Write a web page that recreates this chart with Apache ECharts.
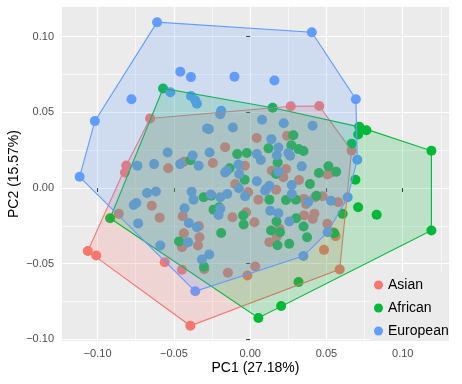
<!DOCTYPE html>
<html>
<head>
<meta charset="utf-8">
<script src="https://cdn.jsdelivr.net/npm/echarts@6/dist/echarts.min.js"></script>
<style>
html,body{margin:0;padding:0;background:#fff;}
#chart{width:462px;height:384px;}
</style>
</head>
<body>
<div id="chart"></div>
<script>
const groups = ['Asian', 'African', 'European'];
const colors = ['#F8766D', '#00BA38', '#619CFF'];
const fills = ['rgba(248,118,109,0.2)', 'rgba(0,186,56,0.2)', 'rgba(97,156,255,0.2)'];
const xTicks = [-0.10, -0.05, 0.00, 0.05, 0.10];
const yTicks = [-0.10, -0.05, 0.00, 0.05, 0.10];
const xMinorTicks = [-0.075, -0.025, 0.025, 0.075, 0.125];
const yMinorTicks = [-0.075, -0.025, 0.025, 0.075];
const xTitle = 'PC1 (27.18%)';
const yTitle = 'PC2 (15.57%)';

// [PC1, PC2]
const asian = [
[-0.1064,-0.0417],[-0.1009,-0.0446],[-0.0392,-0.0911],[0.0587,-0.0538],[0.0665,0.0247],[0.0453,0.0542],[0.0266,0.0540],[-0.0656,0.0460],[-0.0812,0.0148],[-0.0821,0.0103],
[-0.0164,0.0270],[-0.0537,0.0130],[-0.0435,0.0173],[-0.0245,0.0165],[0.0043,0.0331],[0.0242,0.0345],[-0.0035,0.0147],[0.0142,0.0114],[0.0235,0.0125],[0.0320,0.0053],
[0.0170,-0.0011],[-0.0013,-0.0028],[0.0054,-0.0077],[0.0353,-0.0072],[0.0366,-0.0105],[0.0425,-0.0061],[0.0577,-0.0094],[0.0475,-0.0055],[-0.0861,-0.0171],[-0.0645,-0.0117],
[-0.0593,-0.0196],[-0.0442,-0.0186],[-0.0336,-0.0252],[-0.0332,-0.0326],[-0.0116,-0.0193],[-0.0026,-0.0160],[0.0028,-0.0226],[0.0175,-0.0321],[0.0192,-0.0270],[0.0353,-0.0181],
[0.0421,-0.0171],[0.0410,-0.0204],[0.0545,-0.0292],[0.0560,-0.0318],[-0.0435,-0.0299],[-0.0430,-0.0369],[-0.0447,-0.0392],[-0.0342,-0.0380],[-0.0560,-0.0490],[-0.0447,-0.0540],
[-0.0301,-0.0537],[-0.0146,-0.0560],[-0.0018,-0.0578],[0.0033,-0.0519],[0.0126,-0.0358],[0.0484,-0.0409],[-0.0098,0.0026],[0.0506,0.0089],[0.0533,0.0103],
[0.0218,0.0071],[0.0506,-0.0237]
];
const african = [
[-0.0571,0.0658],[0.0147,0.0530],[0.0715,0.0404],[0.0762,0.0382],[0.0708,0.0353],[0.1188,0.0246],[0.1188,-0.0281],[0.0054,-0.0859],[0.0203,-0.0780],[-0.0918,-0.0200],
[0.0283,0.0349],[0.0270,0.0283],[0.0317,0.0257],[0.0350,0.0244],[0.0120,0.0262],[-0.0022,0.0231],[-0.0085,0.0224],[0.0180,0.0169],[0.0451,0.0099],[0.0513,0.0143],
[0.0564,0.0107],[0.0392,0.0026],[0.0665,0.0293],[0.0690,0.0055],[-0.0036,0.0055],[0.0170,0.0092],[-0.0392,0.0183],[-0.0135,0.0130],[-0.0305,-0.0061],[-0.0255,-0.0051],
[-0.0240,-0.0143],[-0.0203,-0.0127],[0.0126,-0.0077],[0.0235,-0.0079],[0.0299,-0.0077],[0.0435,-0.0051],[-0.0046,-0.0181],[-0.0043,-0.0241],[-0.0190,-0.0298],[0.0173,-0.0222],
[0.0137,-0.0281],[0.0196,-0.0292],[0.0301,-0.0200],[0.0350,-0.0254],[0.0373,-0.0325],[0.0179,-0.0378],[0.0256,-0.0369],[-0.0466,-0.0353],[-0.0303,-0.0521],[0.0317,-0.0621],
[0.0551,-0.0299],[0.0606,-0.0171],[0.0708,-0.0127],[0.0829,-0.0177]
];
const european = [
[-0.0610,0.1096],[0.0404,0.1030],[0.0693,0.0587],[0.0702,0.0187],[0.0639,-0.0061],[0.0508,-0.0292],[0.0349,-0.0450],[-0.0360,-0.0683],[-0.1118,0.0074],[-0.1018,0.0442],
[-0.0778,0.0587],[-0.0458,0.0769],[-0.0388,0.0733],[-0.0103,0.0736],[0.0159,0.0710],[-0.0523,0.0633],[-0.0388,0.0608],[-0.0360,0.0580],[-0.0349,0.0557],[-0.0190,0.0511],
[-0.0196,0.0488],[-0.0283,0.0393],[-0.0271,0.0389],[-0.0113,0.0400],[0.0078,0.0451],[0.0220,0.0428],[0.0409,0.0411],[0.0139,0.0323],[0.0175,0.0217],[0.0044,0.0224],
[-0.0077,0.0155],[-0.0541,0.0235],[-0.0377,0.0214],[-0.0266,0.0235],[-0.0739,0.0147],[-0.0630,0.0158],[-0.0459,0.0158],[-0.0338,0.0147],[-0.0152,0.0114],[-0.0164,0.0102],
[-0.0072,0.0092],[0.0044,0.0044],[0.0338,0.0143],[-0.0676,-0.0033],[-0.0618,-0.0023],[-0.0384,-0.0024],[-0.0371,-0.0077],[-0.0258,-0.0043],[-0.0196,-0.0061],[-0.0150,-0.0040],
[-0.0074,-0.0002],[-0.0033,-0.0055],[0.0105,-0.0007],[0.0126,0.0015],[0.0530,-0.0084],[-0.0763,-0.0112],[-0.0746,-0.0099],[-0.0430,-0.0134],[-0.0402,-0.0231],[-0.0349,-0.0260],
[-0.0207,-0.0178],[-0.0196,-0.0138],[-0.0589,-0.0380],[-0.0734,-0.0234],[-0.0316,-0.0473],[-0.0268,-0.0440],[-0.0407,-0.0358],[0.0273,0.0020],[0.0273,-0.0040],[0.0381,-0.0090],
[0.0131,-0.0150],[0.0185,-0.0167],[0.0257,-0.0222],[0.0185,0.0268],[0.0250,0.0231],[0.0262,0.0213],[0.0070,0.0185],[0.0185,0.0107],[0.0098,-0.0018]
];
const groupData = [asian, african, european];

// ggplot-like 5% expansion of the data range
function expanded(dim) {
  let lo = Infinity, hi = -Infinity;
  groupData.forEach(g => g.forEach(p => { lo = Math.min(lo, p[dim]); hi = Math.max(hi, p[dim]); }));
  const pad = (hi - lo) * 0.05;
  return [lo - pad, hi + pad];
}
const [xMin, xMax] = expanded(0);
const [yMin, yMax] = expanded(1);

function convexHull(pts) {
  const p = pts.slice().sort((a, b) => a[0] - b[0] || a[1] - b[1]);
  const cross = (o, a, b) => (a[0] - o[0]) * (b[1] - o[1]) - (a[1] - o[1]) * (b[0] - o[0]);
  const lower = [], upper = [];
  for (const q of p) { while (lower.length >= 2 && cross(lower[lower.length - 2], lower[lower.length - 1], q) <= 0) lower.pop(); lower.push(q); }
  for (let i = p.length - 1; i >= 0; i--) { const q = p[i]; while (upper.length >= 2 && cross(upper[upper.length - 2], upper[upper.length - 1], q) <= 0) upper.pop(); upper.push(q); }
  lower.pop(); upper.pop();
  return lower.concat(upper);
}

const fmt = v => (v < -1e-9 ? '\u2212' : '') + Math.abs(v).toFixed(2);
const FONT = '"Liberation Sans", Arial, Helvetica, sans-serif';

const chart = echarts.init(document.getElementById('chart'), null, { renderer: 'canvas' });

const series = [];
groups.forEach((g, i) => {
  series.push({
    type: 'scatter', name: g, data: groupData[i], xAxisIndex: 0, yAxisIndex: 0,
    symbol: 'circle', symbolSize: 10, z: 2,
    itemStyle: { color: colors[i], opacity: 1 }, silent: true
  });
});
groups.forEach((g, i) => {
  const h = convexHull(groupData[i]);
  series.push({
    type: 'custom', name: g + ' hull', xAxisIndex: 0, yAxisIndex: 0, z: 3, silent: true,
    data: [h[0]],
    renderItem: (params, api) => ({
      type: 'polygon',
      shape: { points: h.map(p => api.coord(p)) },
      style: { fill: fills[i], stroke: colors[i], lineWidth: 1.1 }
    })
  });
});

chart.setOption({
  animation: false,
  backgroundColor: '#ffffff',
  textStyle: { fontFamily: FONT },
  grid: {
    left: 62, right: 13, top: 7, bottom: 43,
    outerBoundsMode: 'none', containLabel: false,
    backgroundColor: '#EBEBEB', show: true, borderWidth: 0
  },
  legend: {
    data: groups.map((g, i) => ({ name: g, itemStyle: { color: colors[i] } })),
    orient: 'vertical', left: 370, top: 272,
    icon: 'circle', itemWidth: 9, itemHeight: 9, itemGap: 5,
    backgroundColor: '#EBEBEB', padding: [4, 0, 1, 4],
    textStyle: { fontSize: 14, color: '#000', lineHeight: 18, fontFamily: FONT }
  },
  xAxis: [{
    type: 'value', min: xMin, max: xMax, position: 'bottom',
    name: xTitle, nameLocation: 'middle', nameGap: 20, nameMoveOverlap: false,
    nameTextStyle: { fontSize: 14, color: '#000', fontFamily: FONT },
    axisLine: { show: false },
    axisTick: { show: true, length: 4, customValues: xTicks, lineStyle: { color: '#333333', width: 1 } },
    axisLabel: { customValues: xTicks, formatter: fmt, fontSize: 11, color: '#4D4D4D', margin: 7, fontFamily: FONT },
    splitLine: { show: true, lineStyle: { color: '#FFFFFF', width: 1.2 } }
  }, {
    type: 'value', min: xMin, max: xMax, position: 'top',
    axisLine: { show: false }, axisLabel: { show: false },
    axisTick: { show: false, customValues: xMinorTicks },
    splitLine: { show: true, lineStyle: { color: '#FFFFFF', width: 0.6 } }
  }],
  yAxis: [{
    type: 'value', min: yMin, max: yMax, position: 'left',
    name: yTitle, nameLocation: 'middle', nameGap: 41, nameMoveOverlap: false,
    nameTextStyle: { fontSize: 14, color: '#000', fontFamily: FONT },
    axisLine: { show: false },
    axisTick: { show: true, length: 4, customValues: yTicks, lineStyle: { color: '#333333', width: 1 } },
    axisLabel: { customValues: yTicks, formatter: fmt, fontSize: 11, color: '#4D4D4D', margin: 8, fontFamily: FONT },
    splitLine: { show: true, lineStyle: { color: '#FFFFFF', width: 1.2 } }
  }, {
    type: 'value', min: yMin, max: yMax, position: 'right',
    axisLine: { show: false }, axisLabel: { show: false },
    axisTick: { show: false, customValues: yMinorTicks },
    splitLine: { show: true, lineStyle: { color: '#FFFFFF', width: 0.6 } }
  }],
  series: series
});
</script>
</body>
</html>
